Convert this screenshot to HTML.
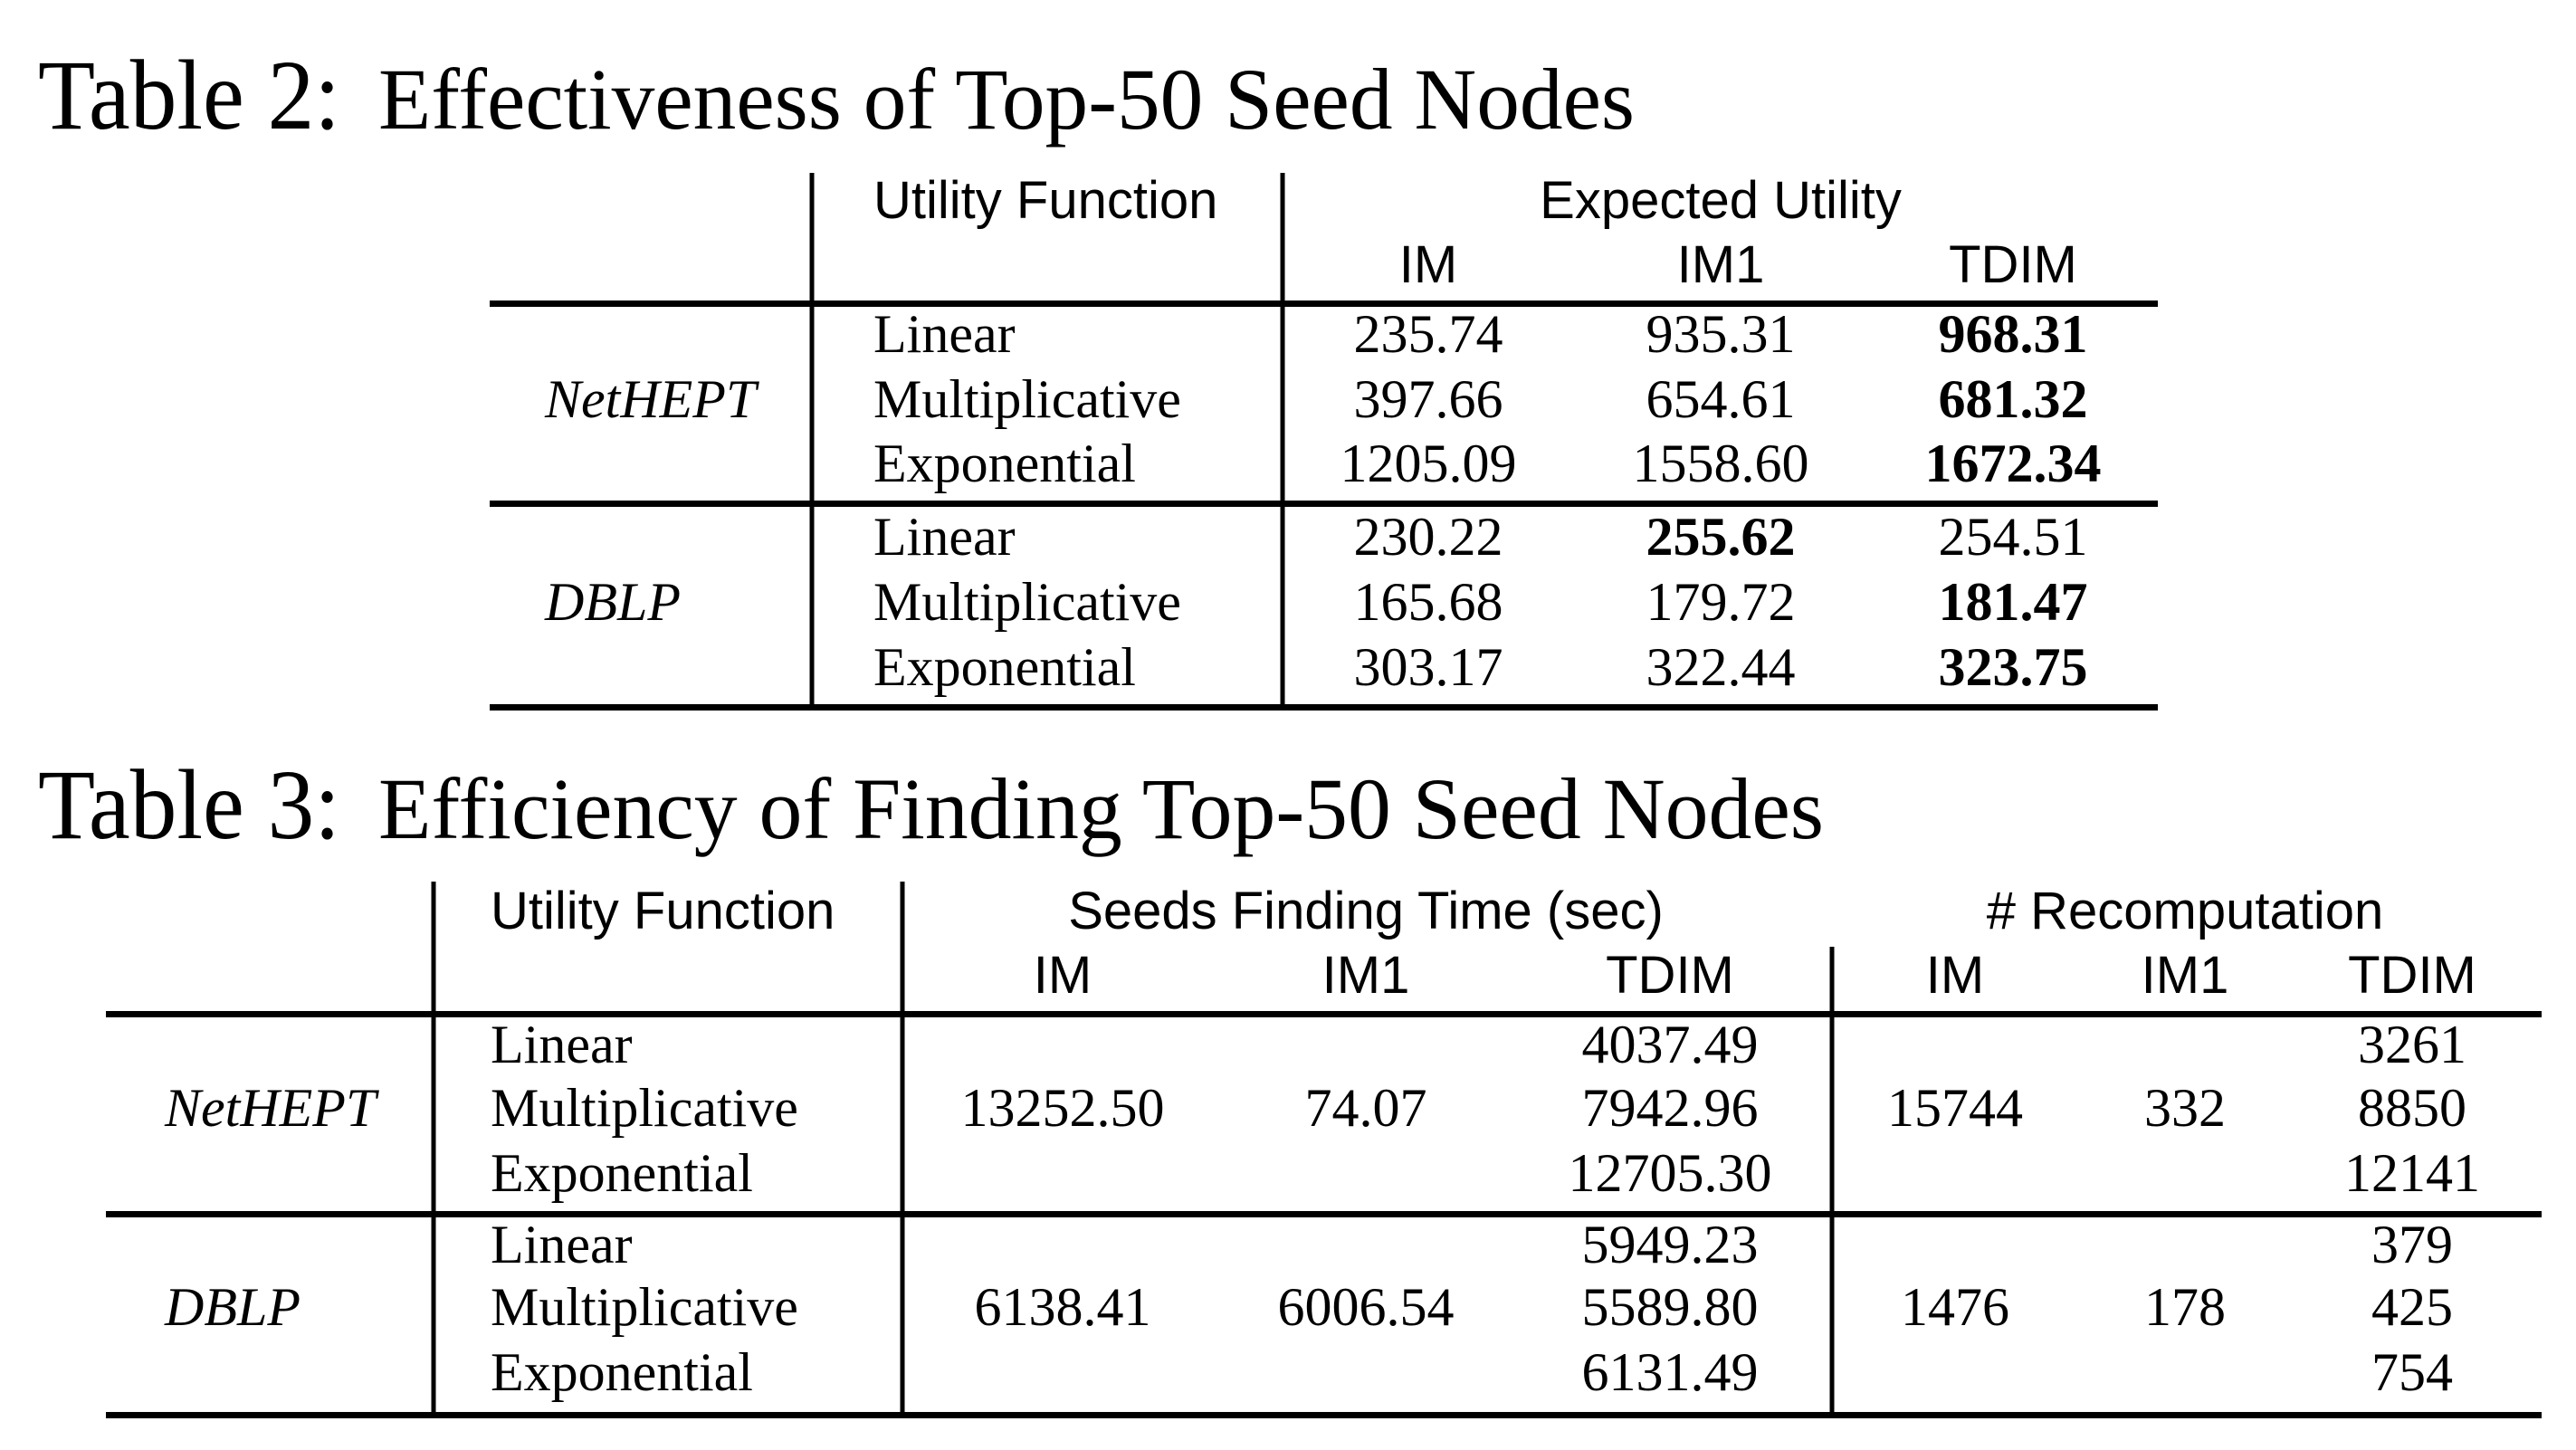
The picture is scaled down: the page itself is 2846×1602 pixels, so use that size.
<!DOCTYPE html>
<html><head><meta charset="utf-8"><style>
html,body{margin:0;padding:0;background:#fff;}
svg{display:block;}
.s{font-family:"Liberation Sans",sans-serif;font-size:58px;}
.r{font-family:"Liberation Serif",serif;font-size:60px;}
.b{font-weight:bold;}
.i{font-style:italic;}
</style></head><body>
<svg width="2846" height="1602" viewBox="0 0 2846 1602" xmlns="http://www.w3.org/2000/svg">
<g>
<text x="42" y="142" font-family="Liberation Serif,serif" font-size="110" textLength="334" lengthAdjust="spacingAndGlyphs">Table 2:</text>
<text x="418" y="142" font-family="Liberation Serif,serif" font-size="96" textLength="1388" lengthAdjust="spacingAndGlyphs">Effectiveness of Top-50 Seed Nodes</text>
<line x1="897" y1="191" x2="897" y2="781" stroke="#000" stroke-width="5"/>
<line x1="1417" y1="191" x2="1417" y2="781" stroke="#000" stroke-width="5"/>
<rect x="541" y="332" width="1843" height="7" fill="#000"/>
<rect x="541" y="553" width="1843" height="7" fill="#000"/>
<rect x="541" y="778" width="1843" height="7" fill="#000"/>
<text class="s" x="965" y="241">Utility Function</text>
<text class="s" x="1901" y="241" text-anchor="middle">Expected Utility</text>
<text class="s" x="1578" y="312" text-anchor="middle">IM</text>
<text class="s" x="1901" y="312" text-anchor="middle">IM1</text>
<text class="s" x="2224" y="312" text-anchor="middle">TDIM</text>
<text class="r i" x="602" y="461">NetHEPT</text>
<text class="r i" x="602" y="685">DBLP</text>
<g class="r">
<text x="965" y="389">Linear</text><text x="965" y="461">Multiplicative</text><text x="965" y="532">Exponential</text>
<text x="965" y="613">Linear</text><text x="965" y="685">Multiplicative</text><text x="965" y="757">Exponential</text>
</g>
<g class="r" text-anchor="middle">
<text x="1578" y="389">235.74</text><text x="1901" y="389">935.31</text><text class="b" x="2224" y="389">968.31</text>
<text x="1578" y="461">397.66</text><text x="1901" y="461">654.61</text><text class="b" x="2224" y="461">681.32</text>
<text x="1578" y="532">1205.09</text><text x="1901" y="532">1558.60</text><text class="b" x="2224" y="532">1672.34</text>
<text x="1578" y="613">230.22</text><text class="b" x="1901" y="613">255.62</text><text x="2224" y="613">254.51</text>
<text x="1578" y="685">165.68</text><text x="1901" y="685">179.72</text><text class="b" x="2224" y="685">181.47</text>
<text x="1578" y="757">303.17</text><text x="1901" y="757">322.44</text><text class="b" x="2224" y="757">323.75</text>
</g>
</g>
<g>
<text x="42" y="926" font-family="Liberation Serif,serif" font-size="110" textLength="334" lengthAdjust="spacingAndGlyphs">Table 3:</text>
<text x="418" y="926" font-family="Liberation Serif,serif" font-size="96" textLength="1597" lengthAdjust="spacingAndGlyphs">Efficiency of Finding Top-50 Seed Nodes</text>
<line x1="479" y1="974" x2="479" y2="1563" stroke="#000" stroke-width="5"/>
<line x1="997" y1="974" x2="997" y2="1563" stroke="#000" stroke-width="5"/>
<line x1="2024" y1="1046" x2="2024" y2="1563" stroke="#000" stroke-width="5"/>
<rect x="117" y="1117" width="2691" height="7" fill="#000"/>
<rect x="117" y="1338" width="2691" height="7" fill="#000"/>
<rect x="117" y="1560" width="2691" height="7" fill="#000"/>
<text class="s" x="542" y="1026">Utility Function</text>
<text class="s" x="1509" y="1026" text-anchor="middle">Seeds Finding Time (sec)</text>
<text class="s" x="2414" y="1026" text-anchor="middle"># Recomputation</text>
<g class="s" text-anchor="middle">
<text x="1174" y="1097">IM</text><text x="1509" y="1097">IM1</text><text x="1845" y="1097">TDIM</text>
<text x="2160" y="1097">IM</text><text x="2414" y="1097">IM1</text><text x="2665" y="1097">TDIM</text>
</g>
<text class="r i" x="182" y="1244">NetHEPT</text>
<text class="r i" x="182" y="1464">DBLP</text>
<g class="r">
<text x="542" y="1174">Linear</text><text x="542" y="1244">Multiplicative</text><text x="542" y="1316">Exponential</text>
<text x="542" y="1395">Linear</text><text x="542" y="1464">Multiplicative</text><text x="542" y="1536">Exponential</text>
</g>
<g class="r" text-anchor="middle">
<text x="1174" y="1244">13252.50</text><text x="1509" y="1244">74.07</text>
<text x="1845" y="1174">4037.49</text><text x="1845" y="1244">7942.96</text><text x="1845" y="1316">12705.30</text>
<text x="2160" y="1244">15744</text><text x="2414" y="1244">332</text>
<text x="2665" y="1174">3261</text><text x="2665" y="1244">8850</text><text x="2665" y="1316">12141</text>
<text x="1174" y="1464">6138.41</text><text x="1509" y="1464">6006.54</text>
<text x="1845" y="1395">5949.23</text><text x="1845" y="1464">5589.80</text><text x="1845" y="1536">6131.49</text>
<text x="2160" y="1464">1476</text><text x="2414" y="1464">178</text>
<text x="2665" y="1395">379</text><text x="2665" y="1464">425</text><text x="2665" y="1536">754</text>
</g>
</g>
</svg>
</body></html>
